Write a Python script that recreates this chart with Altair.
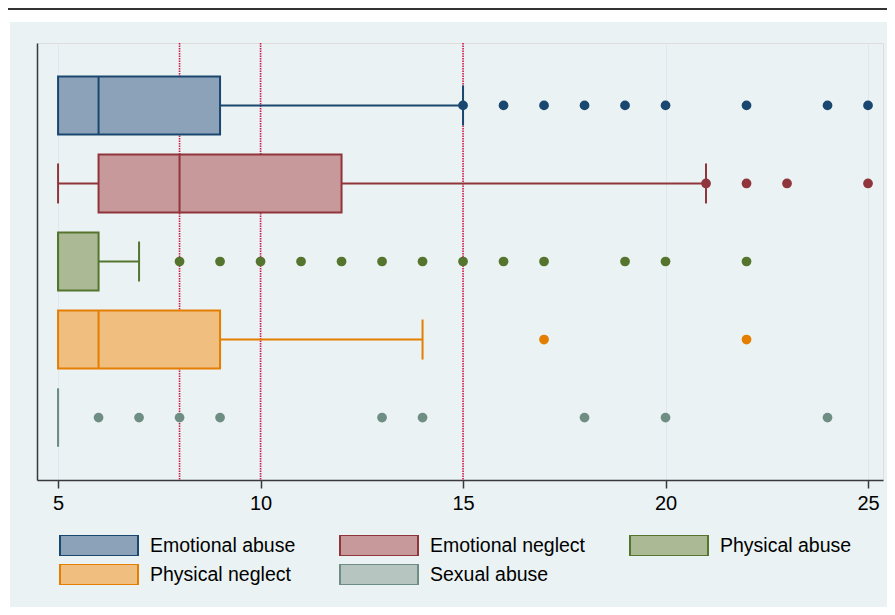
import altair as alt
import pandas as pd

# ---------------- data ----------------
categories = ["Emotional abuse", "Emotional neglect", "Physical abuse",
              "Physical neglect", "Sexual abuse"]
lower_whisker = [5, 5, 5, 5, 5]
q1 = [5, 6, 5, 5, 5]
median = [6, 8, 5, 6, 5]
q3 = [9, 12, 6, 9, 5]
upper_whisker = [15, 21, 7, 14, 5]

outliers_emotional_abuse = [15, 16, 17, 18, 19, 20, 22, 24, 25]
outliers_emotional_neglect = [21, 22, 23, 25]
outliers_physical_abuse = [8, 9, 10, 11, 12, 13, 14, 15, 16, 17, 19, 20, 22]
outliers_physical_neglect = [17, 22]
outliers_sexual_abuse = [6, 7, 8, 9, 13, 14, 18, 20, 24]

reference_lines = [8, 10, 15]
x_ticks = [5, 10, 15, 20, 25]

fill_colors = ["#8CA2B8", "#C7999B", "#ABBA95", "#F0BE7E", "#B6C5BF"]
line_colors = ["#1A476F", "#90353B", "#55752F", "#E37E00", "#6E8E84"]

# ---------------- tables ----------------
outlier_lists = [outliers_emotional_abuse, outliers_emotional_neglect,
                 outliers_physical_abuse, outliers_physical_neglect,
                 outliers_sexual_abuse]

boxes = pd.DataFrame({
    "cat": categories, "idx": list(range(len(categories))),
    "lo": lower_whisker, "q1": q1, "med": median, "q3": q3, "hi": upper_whisker,
})

whisker_rows = []
cap_rows = []
for i, c in enumerate(categories):
    whisker_rows.append({"cat": c, "idx": i, "a": lower_whisker[i], "b": q1[i]})
    whisker_rows.append({"cat": c, "idx": i, "a": q3[i], "b": upper_whisker[i]})
    if lower_whisker[i] < q1[i]:
        cap_rows.append({"cat": c, "idx": i, "v": lower_whisker[i]})
    if upper_whisker[i] > q3[i]:
        cap_rows.append({"cat": c, "idx": i, "v": upper_whisker[i]})
whiskers = pd.DataFrame(whisker_rows)
caps = pd.DataFrame(cap_rows)

points = pd.DataFrame([
    {"cat": c, "idx": i, "v": v}
    for i, (c, lst) in enumerate(zip(categories, outlier_lists)) for v in lst
])
refs = pd.DataFrame({"v": reference_lines})
one = pd.DataFrame({"a": [0]})

# ---------------- shared encodings ----------------
FONT = "Liberation Sans"
x_scale = alt.Scale(domain=[4.48, 25.37], nice=False, zero=False, padding=0)
x_axis = alt.Axis(values=x_ticks, title=None, grid=True, gridColor="#DFE8EE",
                  gridWidth=1, domainColor="#3A3A3A", domainWidth=1.5,
                  tickColor="#3A3A3A", tickWidth=1.5, tickSize=8,
                  labelFontSize=20, labelColor="black", labelFont=FONT,
                  labelPadding=5)
y_scale = alt.Scale(domain=[-0.8, 4.8], reverse=True, nice=False, zero=False,
                    padding=0)
y_axis = alt.Axis(labels=False, ticks=False, grid=False, title=None,
                  domainColor="#3A3A3A", domainWidth=1.5)

def X(field):
    return alt.X(f"{field}:Q", scale=x_scale, axis=x_axis)

Y = alt.Y("idx:Q", scale=y_scale, axis=y_axis)
dark = alt.Color("cat:N", scale=alt.Scale(domain=categories, range=line_colors),
                 legend=None)

legend = alt.Legend(
    orient="none", legendX=22, legendY=492, columns=3, direction="horizontal",
    title=None,
    symbolType="M-1,-0.27H1V0.27H-1Z", symbolSize=6084, symbolStrokeWidth=2,
    clipHeight=21, labelOffset=11, labelFontSize=19.5, labelFont=FONT,
    labelColor="black", columnPadding=43, rowPadding=8, padding=0,
    labelLimit=400, symbolOffset=0,
)

# ---------------- layers ----------------
top_band = alt.Chart(one).mark_rect(color="white").encode(
    x=alt.value(-29), x2=alt.value(850), y=alt.value(-35), y2=alt.value(-21))
left_band = alt.Chart(one).mark_rect(color="white").encode(
    x=alt.value(-29), x2=alt.value(-27), y=alt.value(-35), y2=alt.value(570))
top_line = alt.Chart(one).mark_rule(color="#333333", strokeWidth=2).encode(
    x=alt.value(-29), x2=alt.value(850), y=alt.value(-34))

ref_layer = alt.Chart(refs).mark_rule(
    color="#D2194A", strokeWidth=1.6, strokeDash=[1.5, 1]).encode(x=X("v"))

box_layer = alt.Chart(boxes).mark_bar(
    orient="horizontal", size=58, strokeWidth=2, opacity=1).encode(
    x=X("q1"), x2="q3", y=Y,
    fill=alt.Fill("cat:N", scale=alt.Scale(domain=categories, range=fill_colors),
                  legend=legend),
    stroke=alt.Stroke("cat:N", scale=alt.Scale(domain=categories, range=line_colors),
                      legend=legend),
)

median_layer = alt.Chart(boxes).mark_tick(
    orient="vertical", size=58, thickness=2, opacity=1).encode(
    x=X("med"), y=Y, color=dark)

whisker_layer = alt.Chart(whiskers).mark_rule(strokeWidth=2).encode(
    x=X("a"), x2="b", y=Y, color=dark)

cap_layer = alt.Chart(caps).mark_tick(
    orient="vertical", size=40, thickness=2, opacity=1).encode(
    x=X("v"), y=Y, color=dark)

point_layer = alt.Chart(points).mark_circle(size=95, opacity=1).encode(
    x=X("v"), y=Y, color=dark)

chart = alt.layer(
    top_band, left_band, top_line, ref_layer, box_layer, median_layer,
    whisker_layer, cap_layer, point_layer,
).properties(
    width=846, height=437,
    background="#EAF2F3",
    autosize=alt.AutoSizeParams(type="none"),
    padding={"left": 29, "top": 35, "right": 4, "bottom": 127},
).configure_view(
    fill="white", stroke=None,
).configure(font=FONT)

chart.save("out.html", embed_options={"renderer": "svg", "actions": False})
